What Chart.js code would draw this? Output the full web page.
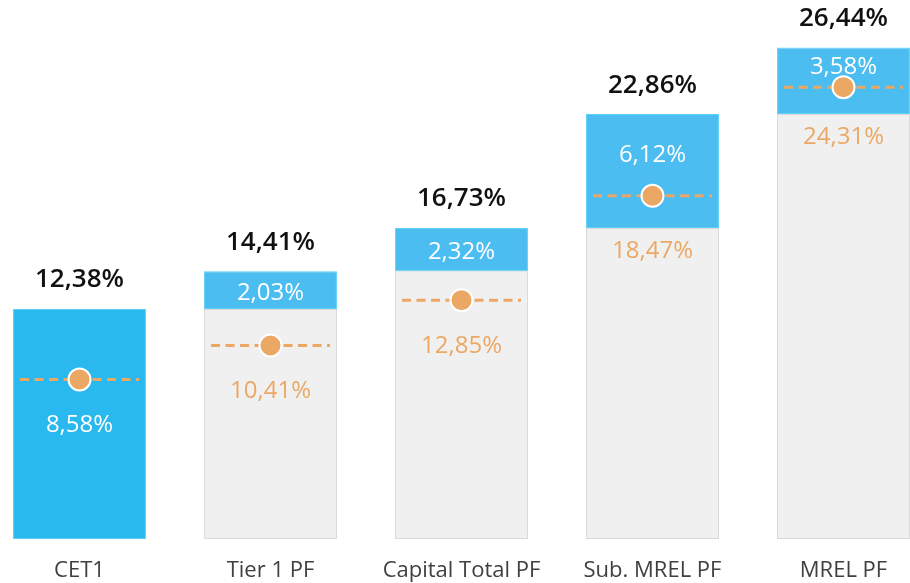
<!DOCTYPE html>
<html>
<head>
<meta charset="utf-8">
<script src="https://cdn.jsdelivr.net/npm/chart.js@4/dist/chart.umd.min.js"></script>
<style>
  html, body { margin: 0; padding: 0; background: #ffffff; overflow: hidden; }
  /* the plot area is slightly wider than the window, the last bar touches the right edge */
  #capital-chart { position: absolute; left: -16px; top: 0; }
</style>
</head>
<body>
<canvas id="capital-chart" width="955" height="583"></canvas>
<script>
// Ratios de capital (%)
const categories = ['CET1', 'Tier 1 PF', 'Capital Total PF', 'Sub. MREL PF', 'MREL PF'];
const baseValues = [0, 12.38, 14.41, 16.73, 22.86];      // nível anterior (cinza)
const totalValues = [12.38, 14.41, 16.73, 22.86, 26.44];  // nível total do ratio
const addedValues = [12.38, 2.03, 2.32, 6.12, 3.58];      // incremento (azul)
const requirementValues = [8.58, 10.41, 12.85, 18.47, 24.31]; // requisito

const FONT = "'Segoe UI', 'Open Sans', sans-serif";
const ORANGE = '#EBA865';

function fmt(v) {
    return v.toFixed(2).replace('.', ',') + '%';
}

// Linha tracejada do requisito, desenhada por baixo dos pontos
const requirementLines = {
    id: 'requirementLines',
    beforeDatasetDraw(chart, args) {
        if (args.index !== 2) return;
        const ctx = chart.ctx;
        const y = chart.scales.y;
        const bars = chart.getDatasetMeta(1).data;
        ctx.save();
        ctx.strokeStyle = ORANGE;
        ctx.lineWidth = 3;
        ctx.setLineDash([9, 5.5]);
        bars.forEach((bar, i) => {
            const py = y.getPixelForValue(requirementValues[i]);
            const half = bar.width / 2 - 7;
            ctx.beginPath();
            ctx.moveTo(bar.x - half, py);
            ctx.lineTo(bar.x + half, py);
            ctx.stroke();
        });
        ctx.restore();
    }
};

// Rótulos: total por cima, incremento no azul, requisito abaixo do ponto
const valueLabels = {
    id: 'valueLabels',
    afterDatasetsDraw(chart) {
        const ctx = chart.ctx;
        const y = chart.scales.y;
        const bars = chart.getDatasetMeta(1).data;
        ctx.save();
        ctx.textAlign = 'center';
        ctx.textBaseline = 'middle';
        bars.forEach((bar, i) => {
            const top = y.getPixelForValue(totalValues[i]);
            const blueBottom = y.getPixelForValue(baseValues[i]);
            const dotY = y.getPixelForValue(requirementValues[i]);

            ctx.font = '600 26px ' + FONT;
            ctx.fillStyle = '#111111';
            ctx.fillText(fmt(totalValues[i]), bar.x, top - 29);

            let reqY = dotY + 46;
            let reqColor = ORANGE;
            if (baseValues[i] > 0) {
                // se o ponto cai dentro do azul, o rótulo fica entre o topo e o ponto
                const incY = dotY < blueBottom
                    ? (top + dotY) / 2
                    : (top + blueBottom) / 2 + 3;
                ctx.font = '24px ' + FONT;
                ctx.fillStyle = '#ffffff';
                ctx.fillText(fmt(addedValues[i]), bar.x, incY);
                reqY = Math.max(reqY, blueBottom + 23);
            } else {
                reqColor = '#ffffff';
            }
            ctx.font = '24px ' + FONT;
            ctx.fillStyle = reqColor;
            ctx.fillText(fmt(requirementValues[i]), bar.x, reqY);
        });
        ctx.restore();
    }
};

const ctx = document.getElementById('capital-chart');
new Chart(ctx, {
    type: 'bar',
    data: {
        labels: categories,
        datasets: [
            {
                label: 'Base',
                data: baseValues.map(v => [0, v]),
                backgroundColor: '#F0F0F0',
                borderColor: '#D9D9D9',
                borderWidth: 1,
                borderSkipped: false,
                grouped: false,
                order: 3
            },
            {
                label: 'Incremento',
                data: baseValues.map((b, i) => [b, totalValues[i]]),
                backgroundColor: categories.map((c, i) => i === 0 ? '#2AB9EE' : '#4BBDF0'),
                borderColor: '#5FD0F8',
                borderWidth: 1,
                borderSkipped: false,
                grouped: false,
                order: 2
            },
            {
                type: 'line',
                label: 'Requisito',
                data: requirementValues,
                showLine: false,
                clip: false,
                pointRadius: 11,
                pointHoverRadius: 11,
                pointBackgroundColor: ORANGE,
                pointBorderColor: '#ffffff',
                pointBorderWidth: 2,
                order: 1
            }
        ]
    },
    options: {
        responsive: false,
        animation: false,
        barPercentage: 0.696,
        categoryPercentage: 1,
        layout: { padding: 0, autoPadding: false },
        plugins: {
            legend: { display: false },
            tooltip: { enabled: false }
        },
        scales: {
            x: {
                offset: true,
                grid: { display: false, drawTicks: false },
                border: { display: false },
                ticks: {
                    color: '#404040',
                    padding: 19,
                    maxRotation: 0,
                    autoSkip: false,
                    font: { family: FONT, size: 22 }
                },
                afterFit(axis) { axis.height = 44; }
            },
            y: {
                display: false,
                min: 0,
                max: 29
            }
        }
    },
    plugins: [requirementLines, valueLabels]
});
</script>
</body>
</html>
